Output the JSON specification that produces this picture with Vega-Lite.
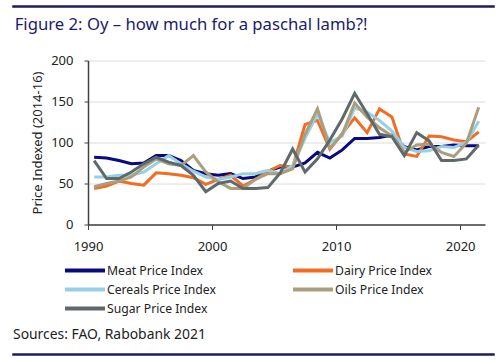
{
  "$schema": "https://vega.github.io/schema/vega-lite/v6.json",
  "padding": {"left": 12, "top": 5, "right": 6, "bottom": 4},
  "spacing": 8.5,
  "resolve": {"scale": {"color": "independent"}, "legend": {"color": "independent"}},
  "config": {
    "font": "Noto Sans",
    "view": {"stroke": null}
  },
  "vconcat": [
    {
      "width": 481,
      "height": 1,
      "data": {"values": [{}]},
      "mark": {"type": "point", "opacity": 0, "size": 0},
      "view": {"stroke": "#1b1b62", "strokeWidth": 1.5}
    },
    {
      "spacing": 0,
      "resolve": {"scale": {"color": "independent"}, "legend": {"color": "independent"}},
      "hconcat": [
        {
          "width": 1,
          "height": 1,
          "data": {"values": [{}]},
          "mark": {"type": "point", "opacity": 0, "size": 0}
        },
        {
          "title": {
            "text": "Figure 2: Oy – how much for a paschal lamb?!",
            "anchor": "start",
            "frame": "bounds",
            "dx": -17,
            "fontSize": 16.7,
            "fontWeight": "normal",
            "color": "#1b1b6b",
            "offset": 21
          },
          "width": 397,
          "height": 164,
          "data": {
            "values": [
              {"date": "1990-07-01", "Meat": 82, "Dairy": 44, "Cereals": 58, "Oils": 46, "Sugar": 78},
              {"date": "1991-07-01", "Meat": 81, "Dairy": 47, "Cereals": 58, "Oils": 50, "Sugar": 56},
              {"date": "1992-07-01", "Meat": 78, "Dairy": 53, "Cereals": 60, "Oils": 53, "Sugar": 56},
              {"date": "1993-07-01", "Meat": 74, "Dairy": 50, "Cereals": 60, "Oils": 58, "Sugar": 64},
              {"date": "1994-07-01", "Meat": 75, "Dairy": 48, "Cereals": 64, "Oils": 70, "Sugar": 74},
              {"date": "1995-07-01", "Meat": 84, "Dairy": 63, "Cereals": 74, "Oils": 80, "Sugar": 82},
              {"date": "1996-07-01", "Meat": 84, "Dairy": 62, "Cereals": 84, "Oils": 74, "Sugar": 76},
              {"date": "1997-07-01", "Meat": 78, "Dairy": 60, "Cereals": 74, "Oils": 72, "Sugar": 72},
              {"date": "1998-07-01", "Meat": 66, "Dairy": 57, "Cereals": 65, "Oils": 84, "Sugar": 60},
              {"date": "1999-07-01", "Meat": 62, "Dairy": 49, "Cereals": 58, "Oils": 64, "Sugar": 40},
              {"date": "2000-07-01", "Meat": 60, "Dairy": 55, "Cereals": 55, "Oils": 52, "Sugar": 50},
              {"date": "2001-07-01", "Meat": 62, "Dairy": 60, "Cereals": 58, "Oils": 44, "Sugar": 53},
              {"date": "2002-07-01", "Meat": 56, "Dairy": 47, "Cereals": 62, "Oils": 44, "Sugar": 44},
              {"date": "2003-07-01", "Meat": 58, "Dairy": 55, "Cereals": 62, "Oils": 55, "Sugar": 44},
              {"date": "2004-07-01", "Meat": 65, "Dairy": 65, "Cereals": 66, "Oils": 62, "Sugar": 45},
              {"date": "2005-07-01", "Meat": 70, "Dairy": 72, "Cereals": 62, "Oils": 62, "Sugar": 63},
              {"date": "2006-07-01", "Meat": 70, "Dairy": 70, "Cereals": 72, "Oils": 68, "Sugar": 92},
              {"date": "2007-07-01", "Meat": 75, "Dairy": 122, "Cereals": 105, "Oils": 110, "Sugar": 64},
              {"date": "2008-07-01", "Meat": 88, "Dairy": 127, "Cereals": 135, "Oils": 141, "Sugar": 80},
              {"date": "2009-07-01", "Meat": 81, "Dairy": 92, "Cereals": 100, "Oils": 93, "Sugar": 103},
              {"date": "2010-07-01", "Meat": 91, "Dairy": 111, "Cereals": 108, "Oils": 110, "Sugar": 129},
              {"date": "2011-07-01", "Meat": 105, "Dairy": 130, "Cereals": 142, "Oils": 148, "Sugar": 160},
              {"date": "2012-07-01", "Meat": 105, "Dairy": 112, "Cereals": 137, "Oils": 131, "Sugar": 135},
              {"date": "2013-07-01", "Meat": 106, "Dairy": 141, "Cereals": 127, "Oils": 118, "Sugar": 110},
              {"date": "2014-07-01", "Meat": 109, "Dairy": 131, "Cereals": 114, "Oils": 108, "Sugar": 107},
              {"date": "2015-07-01", "Meat": 95, "Dairy": 86, "Cereals": 94, "Oils": 88, "Sugar": 84},
              {"date": "2016-07-01", "Meat": 91, "Dairy": 83, "Cereals": 89, "Oils": 97, "Sugar": 112},
              {"date": "2017-07-01", "Meat": 95, "Dairy": 108, "Cereals": 90, "Oils": 98, "Sugar": 102},
              {"date": "2018-07-01", "Meat": 95, "Dairy": 107, "Cereals": 95, "Oils": 88, "Sugar": 78},
              {"date": "2019-07-01", "Meat": 97, "Dairy": 103, "Cereals": 94, "Oils": 83, "Sugar": 78},
              {"date": "2020-07-01", "Meat": 96, "Dairy": 101, "Cereals": 100, "Oils": 99, "Sugar": 80},
              {"date": "2021-07-01", "Meat": 96, "Dairy": 113, "Cereals": 126, "Oils": 143, "Sugar": 97}
            ]
          },
          "transform": [
            {"fold": ["Meat", "Dairy", "Cereals", "Oils", "Sugar"], "as": ["key", "value"]},
            {"lookup": "key", "from": {"data": {"values": [
              {"key": "Meat", "series": "Meat Price Index"},
              {"key": "Dairy", "series": "Dairy Price Index"},
              {"key": "Cereals", "series": "Cereals Price Index"},
              {"key": "Oils", "series": "Oils Price Index"},
              {"key": "Sugar", "series": "Sugar Price Index"}
            ]}, "key": "key", "fields": ["series"]}}
          ],
          "mark": {"type": "line", "strokeWidth": 3},
          "encoding": {
            "x": {
              "field": "date",
              "type": "temporal",
              "scale": {"domain": [{"year": 1990, "month": 1, "date": 1}, {"year": 2022, "month": 1, "date": 1}]},
              "axis": {
                "title": null,
                "values": [{"year": 1990}, {"year": 2000}, {"year": 2010}, {"year": 2020}],
                "format": "%Y",
                "grid": false,
                "labelFontSize": 13,
                "labelColor": "#222222",
                "labelPadding": 11,
                "tickSize": 5,
                "domainColor": "#404040",
                "tickColor": "#404040",
                "domainWidth": 1.5,
                "labelFlush": false
              }
            },
            "y": {
              "field": "value",
              "type": "quantitative",
              "scale": {"domain": [0, 200]},
              "axis": {
                "title": "Price Indexed (2014-16)",
                "values": [0, 50, 100, 150, 200],
                "grid": true,
                "gridColor": "#dcdcdc",
                "labelFontSize": 13,
                "labelColor": "#222222",
                "labelPadding": 11,
                "tickSize": 4,
                "domainColor": "#404040",
                "tickColor": "#404040",
                "domainWidth": 1.5,
                "titleFontSize": 13,
                "titleFontWeight": "normal",
                "titleColor": "#222222",
                "titlePadding": 6
              }
            },
            "color": {
              "field": "series",
              "type": "nominal",
              "sort": ["Meat Price Index", "Dairy Price Index", "Cereals Price Index", "Oils Price Index", "Sugar Price Index"],
              "scale": {
                "domain": ["Meat Price Index", "Dairy Price Index", "Cereals Price Index", "Oils Price Index", "Sugar Price Index"],
                "range": ["#0a0a80", "#f26c22", "#96d0e8", "#a99f7e", "#5f696c"]
              },
              "legend": {
                "title": null,
                "orient": "bottom",
                "direction": "horizontal",
                "offset": 8,
                "padding": 2,
                "columns": 2,
                "columnPadding": 69,
                "rowPadding": 3,
                "symbolType": "M-6.4,0H1.6",
                "symbolSize": 100,
                "symbolStrokeWidth": 4,
                "labelFontSize": 12.2,
                "labelColor": "#222222",
                "labelOffset": 3
              }
            }
          }
        }
      ]
    },
    {
      "width": 481,
      "height": 1,
      "title": {
        "text": "Sources: FAO, Rabobank 2021",
        "anchor": "start",
        "fontSize": 13.9,
        "fontWeight": "normal",
        "color": "#222222",
        "offset": 12
      },
      "data": {"values": [{}]},
      "mark": {"type": "point", "opacity": 0, "size": 0},
      "view": {"stroke": "#1b1b62", "strokeWidth": 1.5}
    }
  ]
}
